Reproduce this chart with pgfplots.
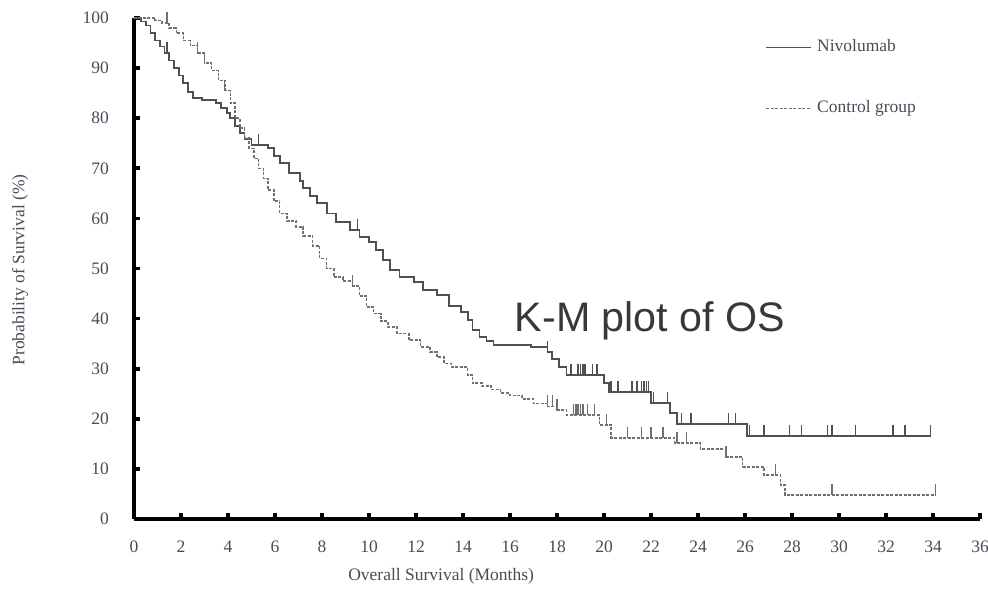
\documentclass[border=0pt]{standalone}
\usepackage{pgfplots}
\pgfplotsset{compat=1.18}
\usepackage{pgfplotstable}
\usepackage{fontspec}
\setmainfont{Liberation Serif}
\newfontfamily\arialfont{Liberation Sans}
\definecolor{nivo}{HTML}{505050}
\definecolor{ctrl}{HTML}{707070}
\definecolor{ticklab}{HTML}{4A4A58}
\definecolor{kmtext}{HTML}{383838}

\pgfplotstableread{
x y
0 100
0.3 99.3
0.5 98.5
0.7 97
0.9 95.5
1.1 94.3
1.3 93
1.5 91.5
1.7 90
1.9 88.5
2.1 87
2.3 85.3
2.5 84
2.9 83.6
3.5 83
3.7 82
3.95 81
4.1 80
4.3 78.5
4.5 77
4.7 75.8
5.0 74.6
5.7 74
5.95 72.5
6.2 71
6.6 69
7.06 67.5
7.2 66
7.5 64.5
7.8 63
8.2 61
8.6 59.3
9.2 57.7
9.6 56.3
10.0 55.3
10.3 53.7
10.6 51.7
10.9 49.7
11.3 48.3
11.9 47.3
12.3 45.7
12.9 44.7
13.4 42.5
13.9 41.3
14.2 39.7
14.4 37.7
14.7 36.3
15.0 35.5
15.3 34.7
16.9 34.3
17.6 33.3
17.8 32
18.1 30.3
18.4 28.7
20.0 27.1
20.2 25.3
22.0 23.1
22.8 21.2
23.1 19
26.1 16.6
33.9 16.6
}\nivodata

\pgfplotstableread{
x y
1.4 93
5.3 74.6
9.5 57.7
17.6 33.3
18.6 28.7
18.9 28.7
19.0 28.7
19.1 28.7
19.2 28.7
19.5 28.7
19.7 28.7
20.3 25.3
20.6 25.3
21.2 25.3
21.4 25.3
21.6 25.3
21.7 25.3
21.8 25.3
21.9 25.3
22.1 23.1
22.7 23.1
23.3 19
23.7 19
25.3 19
25.6 19
26.2 16.6
26.8 16.6
27.9 16.6
28.4 16.6
29.5 16.6
29.7 16.6
30.7 16.6
32.3 16.6
32.8 16.6
33.9 16.6
}\nivocens

\pgfplotstableread{
x y
0 100
0.9 99.5
1.2 99
1.5 98
1.8 97
2.1 95.5
2.4 94.5
2.7 93
3.0 91
3.3 89.5
3.6 87.5
3.9 85.5
4.1 83
4.3 80
4.5 78
4.7 76
4.9 74
5.1 72
5.3 70
5.5 68
5.7 65.7
5.95 63.5
6.2 61
6.5 59.5
6.9 58.3
7.2 56.5
7.6 54.5
7.9 52
8.2 50
8.5 48.3
8.9 47.5
9.3 46.5
9.6 44.5
9.9 42.3
10.2 41
10.5 39.5
10.8 38.3
11.2 37
11.7 35.7
12.2 34.3
12.6 33.3
12.9 32.3
13.2 31
13.5 30.3
14.2 28.7
14.4 27.1
14.8 26.5
15.2 25.8
15.6 25.1
16.0 24.7
16.5 24
17.0 23.1
17.6 22.5
18.0 21.8
18.4 20.8
19.8 18.8
20.3 16.2
23.0 15.2
24.1 14.0
25.2 12.4
25.9 10.4
26.8 8.8
27.5 6.8
27.7 4.8
34.1 4.8
}\ctrldata

\pgfplotstableread{
x y
1.4 99
2.7 93
3.0 91
3.85 85.5
9.3 46.5
17.6 22.5
17.8 22.5
18.0 21.8
18.7 20.8
18.8 20.8
18.9 20.8
19.0 20.8
19.1 20.8
19.3 20.8
19.6 20.8
20.1 18.8
21.0 16.2
21.6 16.2
22.0 16.2
22.5 16.2
23.1 15.2
23.5 15.2
25.2 12.4
27.3 8.8
29.7 4.8
34.1 4.8
}\ctrlcens

\begin{document}
\begin{tikzpicture}
\begin{axis}[
  scale only axis, width=338.4pt, height=200.4pt,
  xmin=0, xmax=36, ymin=0, ymax=100,
  clip=false,
  axis lines=left,
  axis line style={line width=1.5pt, -},
  xtick={0,2,...,36}, ytick={0,10,...,100},
  tick align=inside, major tick length=2.5pt,
  tick style={line width=1.5pt, black},
  /pgf/number format/assume math mode=true,
  ticklabel style={font=\fontsize{7}{8}\selectfont, text=ticklab},
  yticklabel style={xshift=-6.5pt},
  xticklabel style={yshift=-5.3pt},
  xlabel={Overall Survival (Months)},
  ylabel={Probability of Survival (\%)},
  label style={font=\fontsize{7}{8}\selectfont, text=ticklab},
  xlabel style={at={([yshift=-24.4pt]axis description cs:0.363,0)}, anchor=base},
  ylabel style={at={([xshift=-45.6pt]axis description cs:0,0.497)}, anchor=center},
  legend style={at={(axis cs:26.85,96.8)}, anchor=north west, draw=none, fill=none,
    font=\fontsize{7}{8}\selectfont, text=ticklab, row sep=14pt, inner sep=0pt},
  legend cell align=left,
  legend image code/.code={\draw[#1] (0pt,0pt) -- (18pt,0pt);},
]
\addplot[const plot, color=nivo, line width=0.7pt] table[x=x,y=y] {\nivodata};
\addlegendentry{Nivolumab}
\addplot[const plot, color=ctrl, line width=0.6pt, dash pattern=on 1.2pt off 0.6pt] table[x=x,y=y] {\ctrldata};
\addlegendentry{Control group}
\addplot[only marks, mark=|, mark size=2.3pt, color=nivo, mark options={solid, line width=0.6pt}, every mark/.append style={yshift=2.1pt}, forget plot] table[x=x,y=y] {\nivocens};
\addplot[only marks, mark=|, mark size=2.3pt, color=ctrl, mark options={solid, line width=0.6pt}, every mark/.append style={yshift=2.1pt}, forget plot] table[x=x,y=y] {\ctrlcens};
\node[anchor=base, font=\arialfont\fontsize{16.5}{18}\selectfont, text=kmtext] at (axis cs:21.96,37.5) {K-M plot of OS};
\coordinate (ll) at (rel axis cs:0,0);
\coordinate (ur) at (rel axis cs:1,1);
\end{axis}
\pgfresetboundingbox
\path[use as bounding box] ([xshift=-53.6pt,yshift=-27.6pt]ll) rectangle ([xshift=3.2pt,yshift=7.2pt]ur);
\end{tikzpicture}
\end{document}
